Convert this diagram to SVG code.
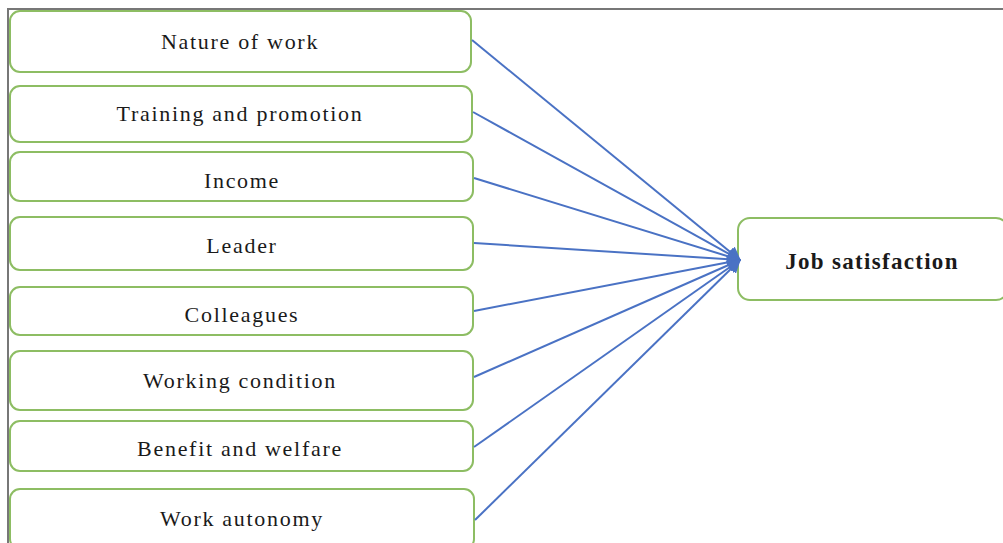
<svg xmlns="http://www.w3.org/2000/svg" width="1003" height="543" viewBox="0 0 1003 543">
<defs>
<style>
.box{fill:#fff;stroke:#8dbd63;stroke-width:2}
.lbl{font-family:"Liberation Serif","DejaVu Serif",serif;font-size:22px;fill:#1a1a1a;text-anchor:middle;dominant-baseline:central;letter-spacing:1.7px}
.bold{font-weight:bold;font-size:23px;letter-spacing:1.3px}
.conn{stroke:#4a72c4;stroke-width:2;fill:none}
</style>
<marker id="ah" viewBox="0 0 10 10" refX="9" refY="5" markerWidth="7" markerHeight="7" markerUnits="strokeWidth" orient="auto">
<path d="M0,0 L10,5 L0,10 z" fill="#4a72c4"/>
</marker>
</defs>
<rect width="1003" height="543" fill="#fff"/>
<path d="M8,543 L8,9 L1003,9" fill="none" stroke="#777" stroke-width="2"/>
<g id="n1"><rect class="box" x="10" y="11" width="461" height="61" rx="10"/><text class="lbl" x="240" y="41">Nature of work</text></g>
<g id="n2"><rect class="box" x="10" y="86" width="462" height="56" rx="10"/><text class="lbl" x="240" y="113">Training and promotion</text></g>
<g id="n3"><rect class="box" x="10" y="152" width="463" height="49" rx="10"/><text class="lbl" x="242" y="180">Income</text></g>
<g id="n4"><rect class="box" x="10" y="217" width="463" height="53" rx="10"/><text class="lbl" x="242" y="245">Leader</text></g>
<g id="n5"><rect class="box" x="10" y="287" width="463" height="48" rx="10"/><text class="lbl" x="242" y="314">Colleagues</text></g>
<g id="n6"><rect class="box" x="10" y="351" width="463" height="59" rx="10"/><text class="lbl" x="240" y="380">Working condition</text></g>
<g id="n7"><rect class="box" x="10" y="421" width="463" height="50" rx="10"/><text class="lbl" x="240" y="448">Benefit and welfare</text></g>
<g id="n8"><rect class="box" x="10" y="489" width="464" height="60" rx="10"/><text class="lbl" x="242" y="518">Work autonomy</text></g>
<g id="target"><rect class="box" x="738" y="218" width="270" height="82" rx="12"/><text class="lbl bold" x="872" y="261">Job satisfaction</text></g>
<g id="connectors">
<line class="conn" x1="472" y1="40" x2="740" y2="260" marker-end="url(#ah)"/>
<line class="conn" x1="473" y1="112" x2="740" y2="260" marker-end="url(#ah)"/>
<line class="conn" x1="474" y1="178" x2="740" y2="260" marker-end="url(#ah)"/>
<line class="conn" x1="474" y1="243" x2="740" y2="260" marker-end="url(#ah)"/>
<line class="conn" x1="474" y1="311" x2="740" y2="260" marker-end="url(#ah)"/>
<line class="conn" x1="474" y1="377" x2="740" y2="260" marker-end="url(#ah)"/>
<line class="conn" x1="474" y1="447" x2="740" y2="260" marker-end="url(#ah)"/>
<line class="conn" x1="475" y1="520" x2="740" y2="260" marker-end="url(#ah)"/>
</g>
</svg>
